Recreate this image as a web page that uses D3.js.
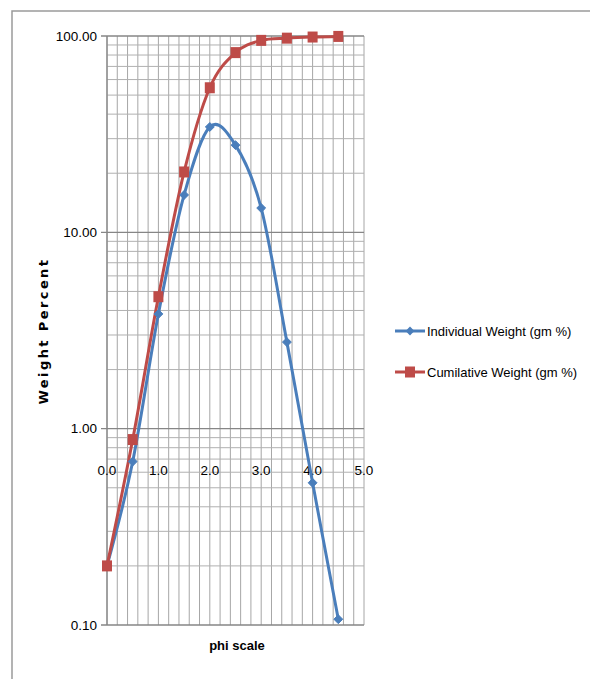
<!DOCTYPE html>
<html>
<head>
<meta charset="utf-8">
<script src="https://cdn.jsdelivr.net/npm/d3@7"></script>
<style>
  body { margin: 0; background: #fff; }
  text { font-family: "Liberation Sans", Arial, sans-serif; fill: #000; }
</style>
</head>
<body>
<div id="chart"></div>
<script>
// values
var phi = [0.0, 0.5, 1.0, 1.5, 2.0, 2.5, 3.0, 3.5, 4.0, 4.5];
var individual = [0.2, 0.68, 3.84, 15.5, 34.4, 27.8, 13.3, 2.76, 0.53, 0.107];
var cumulative = [0.2, 0.88, 4.7, 20.3, 54.5, 82.3, 95.0, 97.5, 98.8, 99.5];
var xTicks = [0, 1, 2, 3, 4, 5];
var yTicks = [0.1, 1, 10, 100];
var seriesNames = ["Individual Weight (gm %)", "Cumilative Weight (gm %)"];

var width = 590, height = 681;
var blue = "#4a7ebb", red = "#be4b48";

var svg = d3.select("#chart").append("svg")
    .attr("width", width)
    .attr("height", height);

// chart frame (only top and left show in the picture)
svg.append("path")
    .attr("d", "M12,679 L12,11 L590,11")
    .attr("fill", "none")
    .attr("stroke", "#9a9a9a")
    .attr("stroke-width", 1.5);

var x = d3.scaleLinear().domain([0, 5]).range([107, 364]);
var y = d3.scaleLog().domain([0.1, 100]).range([625, 36]);

var grid = svg.append("g");

// vertical grid every 0.2
grid.selectAll("line.v")
    .data(d3.range(0, 26).map(i => i * 0.2))
    .enter().append("line")
    .attr("class", "v")
    .attr("x1", d => x(d)).attr("x2", d => x(d))
    .attr("y1", y(100)).attr("y2", y(0.1))
    .attr("stroke", "#a6a6a6")
    .attr("stroke-width", 1);

// horizontal minor grid (log 2..9)
var minor = [];
[0.1, 1, 10].forEach(function(dec){
    for (var m = 2; m <= 9; m++) minor.push(dec * m);
});
grid.selectAll("line.hm")
    .data(minor)
    .enter().append("line")
    .attr("class", "hm")
    .attr("x1", x(0)).attr("x2", x(5))
    .attr("y1", d => y(d)).attr("y2", d => y(d))
    .attr("stroke", "#b0b0b0")
    .attr("stroke-width", 1);

// major horizontal lines at decades
grid.selectAll("line.hM")
    .data(yTicks)
    .enter().append("line")
    .attr("class", "hM")
    .attr("x1", x(0) - 6).attr("x2", x(5))
    .attr("y1", d => y(d)).attr("y2", d => y(d))
    .attr("stroke", "#868686")
    .attr("stroke-width", 1.3);

// y axis line
svg.append("line")
    .attr("x1", x(0)).attr("x2", x(0))
    .attr("y1", y(100)).attr("y2", y(0.1))
    .attr("stroke", "#868686")
    .attr("stroke-width", 1.3);

// y tick labels
svg.append("g").selectAll("text")
    .data(yTicks)
    .enter().append("text")
    .attr("x", 97)
    .attr("y", d => y(d))
    .attr("dy", "0.35em")
    .attr("text-anchor", "end")
    .attr("font-size", 13.5)
    .text(d => d3.format(".2f")(d));

// x tick labels (sit below the 1.00 line)
svg.append("g").selectAll("text")
    .data(xTicks)
    .enter().append("text")
    .attr("x", d => x(d))
    .attr("y", 470)
    .attr("dy", "0.35em")
    .attr("text-anchor", "middle")
    .attr("font-size", 13.5)
    .text(d => d3.format(".1f")(d));

// axis titles
svg.append("text")
    .attr("transform", "translate(43,331) rotate(-90)")
    .attr("text-anchor", "middle")
    .attr("dy", "0.35em")
    .attr("font-size", 13)
    .attr("font-weight", "bold")
    .attr("letter-spacing", 2.4)
    .style("font-family", "'DejaVu Sans', sans-serif")
    .text("Weight Percent");

svg.append("text")
    .attr("x", 237)
    .attr("y", 645)
    .attr("dy", "0.35em")
    .attr("text-anchor", "middle")
    .attr("font-size", 13)
    .attr("font-weight", "bold")
    .text("phi scale");

// series
var line = d3.line()
    .x(d => x(d[0]))
    .y(d => y(d[1]))
    .curve(d3.curveCardinal.tension(0));

var indData = phi.map((p, i) => [p, individual[i]]);
var cumData = phi.map((p, i) => [p, cumulative[i]]);

svg.append("path")
    .datum(indData)
    .attr("d", line)
    .attr("fill", "none")
    .attr("stroke", blue)
    .attr("stroke-width", 3);

svg.append("path")
    .datum(cumData)
    .attr("d", line)
    .attr("fill", "none")
    .attr("stroke", red)
    .attr("stroke-width", 3);

var diamond = d3.symbol().type(d3.symbolDiamond2).size(50);

svg.append("g").selectAll("path")
    .data(indData)
    .enter().append("path")
    .attr("transform", d => "translate(" + x(d[0]) + "," + y(d[1]) + ")")
    .attr("d", diamond)
    .attr("fill", blue)
    .attr("stroke", blue);

svg.append("g").selectAll("rect")
    .data(cumData)
    .enter().append("rect")
    .attr("x", d => x(d[0]) - 5)
    .attr("y", d => y(d[1]) - 5.5)
    .attr("width", 10)
    .attr("height", 11)
    .attr("fill", red);

// legend
var legend = svg.append("g");
var legY = [331, 372];
var legColor = [blue, red];

legend.selectAll("line")
    .data(seriesNames)
    .enter().append("line")
    .attr("x1", 395).attr("x2", 425)
    .attr("y1", (d, i) => legY[i]).attr("y2", (d, i) => legY[i])
    .attr("stroke", (d, i) => legColor[i])
    .attr("stroke-width", 3);

legend.append("path")
    .attr("transform", "translate(410," + legY[0] + ")")
    .attr("d", diamond)
    .attr("fill", blue);

legend.append("rect")
    .attr("x", 405).attr("y", legY[1] - 5.5)
    .attr("width", 10).attr("height", 11)
    .attr("fill", red);

legend.selectAll("text")
    .data(seriesNames)
    .enter().append("text")
    .attr("x", 427)
    .attr("y", (d, i) => legY[i])
    .attr("dy", "0.35em")
    .attr("font-size", 13)
    .text(d => d);
</script>
</body>
</html>
